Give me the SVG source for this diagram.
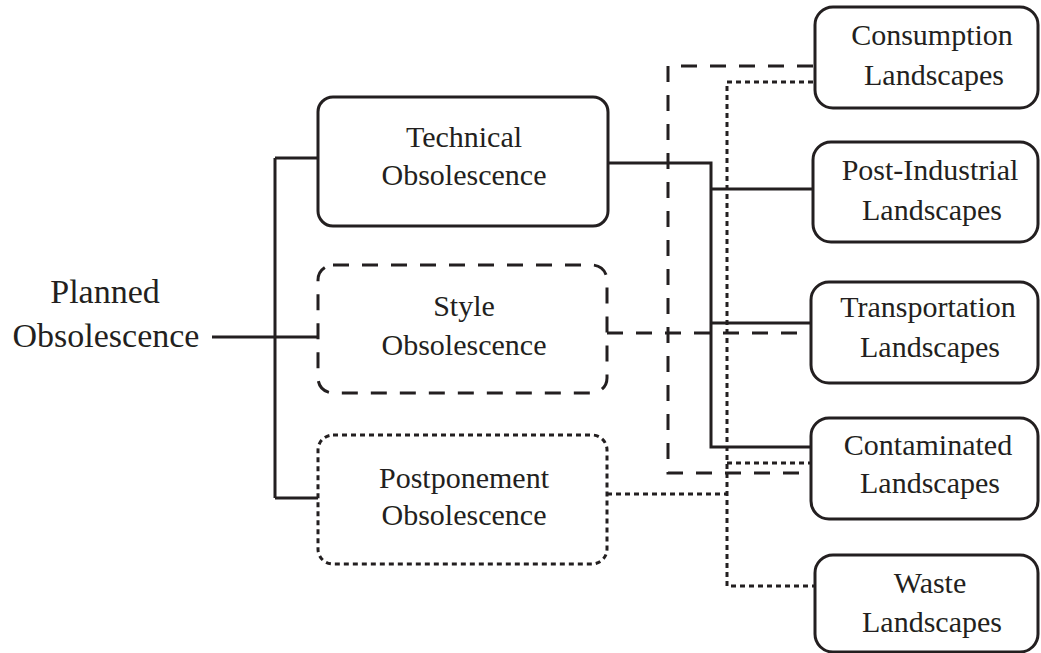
<svg xmlns="http://www.w3.org/2000/svg" width="1041" height="653" viewBox="0 0 1041 653">
<style>
text{font-family:"Liberation Serif","Times New Roman",serif;font-size:30px;fill:#231f20;text-anchor:middle}
.box{fill:#fff;stroke:#231f20;stroke-width:3}
.dash{stroke-dasharray:16 13}
.dot{stroke-dasharray:5 4}
.c{fill:none;stroke:#231f20;stroke-width:3}
</style>
<rect width="1041" height="653" fill="#fff"/>
<g id="connectors">
<path class="c" d="M212 337H318M275 158V498M275 158H318M275 498H318"/>
<path class="c" d="M607 163H711V447H811M711 189H813M711 323H811"/>
<path class="c dash" d="M607 333H811"/>
<path class="c dash" d="M813 66H668V473H811"/>
<path class="c dot" d="M607 494H727"/>
<path class="c dot" d="M813 82H727V586H815"/>
<path class="c dot" d="M727 463H811"/>
</g>
<g id="planned">
<text x="105" y="303" style="font-size:34px">Planned</text>
<text x="106" y="347" style="font-size:34px">Obsolescence</text>
</g>
<g id="technical">
<rect class="box" x="318" y="97" width="290" height="129" rx="15"/>
<text x="464" y="147">Technical</text>
<text x="464" y="185">Obsolescence</text>
</g>
<g id="style">
<rect class="box dash" x="318" y="265" width="289" height="128" rx="15"/>
<text x="464" y="316">Style</text>
<text x="464" y="355">Obsolescence</text>
</g>
<g id="postponement">
<rect class="box dot" x="318" y="435" width="289" height="129" rx="15"/>
<text x="464" y="488">Postponement</text>
<text x="464" y="525">Obsolescence</text>
</g>
<g id="consumption">
<rect class="box" x="815" y="7" width="223" height="101" rx="18"/>
<text x="932" y="45">Consumption</text>
<text x="934" y="85">Landscapes</text>
</g>
<g id="postindustrial">
<rect class="box" x="813" y="142" width="225" height="100" rx="18"/>
<text x="930" y="180">Post-Industrial</text>
<text x="932" y="220">Landscapes</text>
</g>
<g id="transportation">
<rect class="box" x="811" y="282" width="227" height="101" rx="18"/>
<text x="928" y="317">Transportation</text>
<text x="930" y="357">Landscapes</text>
</g>
<g id="contaminated">
<rect class="box" x="811" y="418" width="227" height="101" rx="18"/>
<text x="928" y="455">Contaminated</text>
<text x="930" y="493">Landscapes</text>
</g>
<g id="waste">
<rect class="box" x="815" y="555" width="223" height="97" rx="18"/>
<text x="930" y="593">Waste</text>
<text x="932" y="632">Landscapes</text>
</g>
</svg>
